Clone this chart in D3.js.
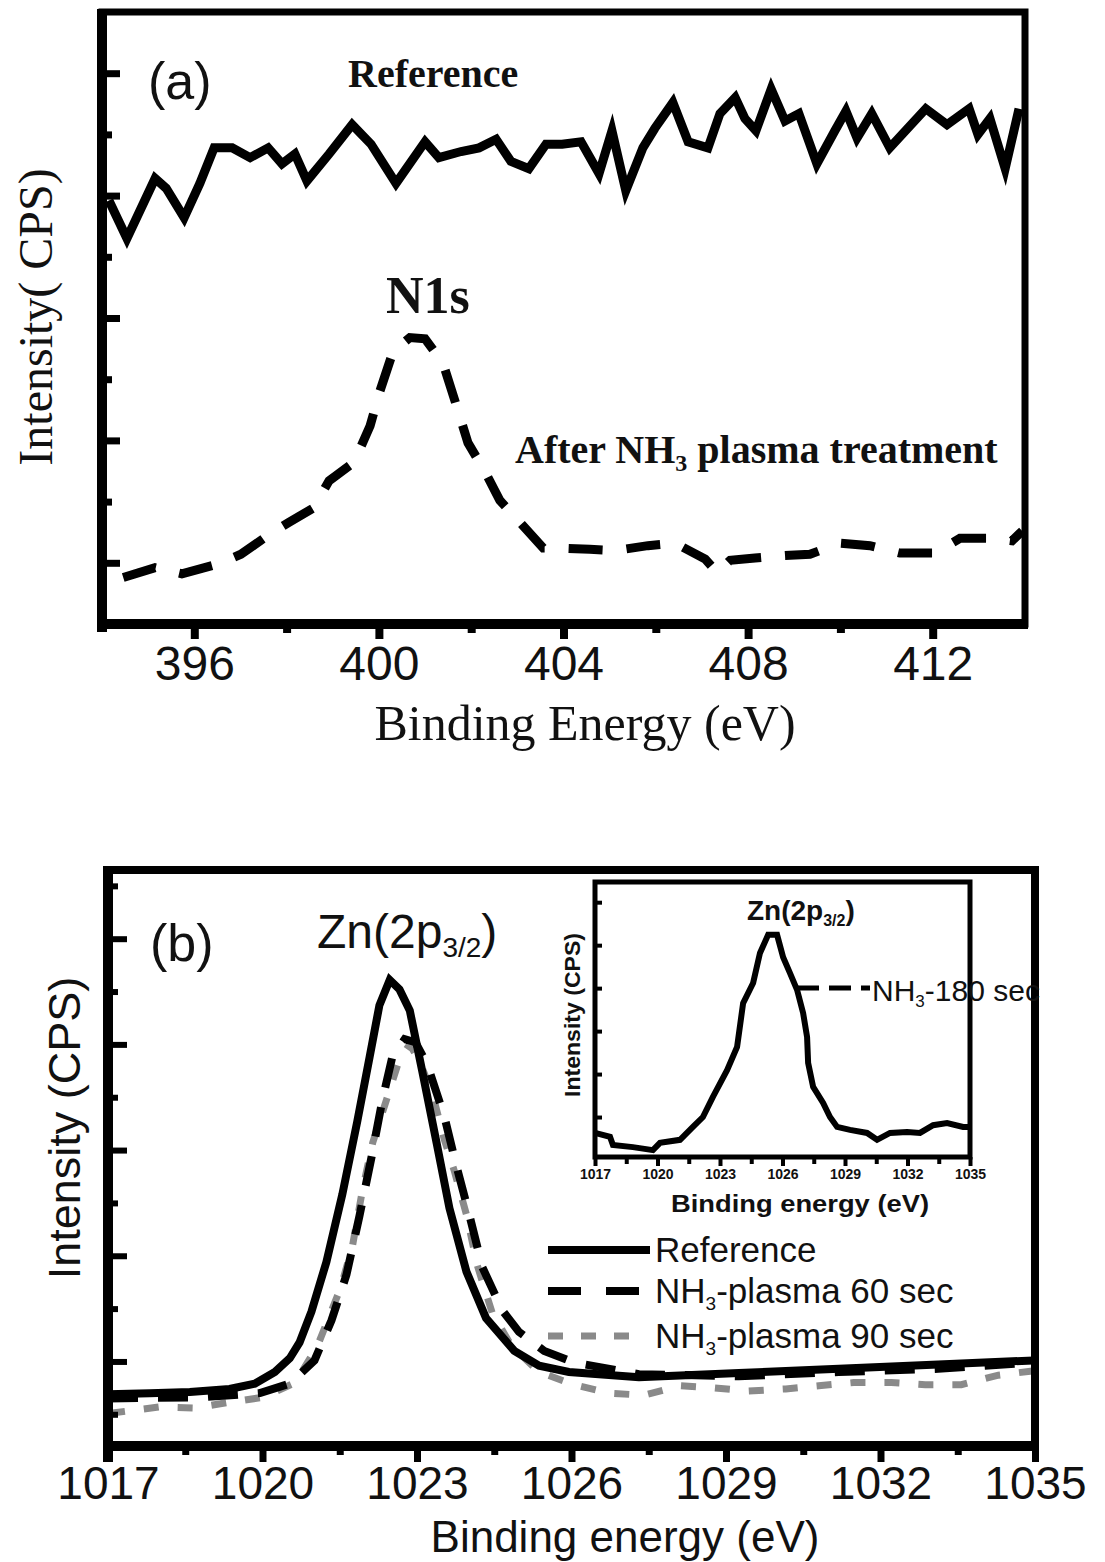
<!DOCTYPE html>
<meta charset="utf-8">
<style>
body{margin:0;background:#fff}
svg text{fill:#111}
</style>
<body>
<script src="https://cdn.jsdelivr.net/npm/d3@7"></script>
<script>
// ---- panel (a): N1s ----
var aRefE = [394.15,394.54,395.15,395.39,395.78,396.12,396.43,396.82,397.21,397.60,397.90,398.18,398.44,398.92,399.42,399.83,400.37,401.00,401.30,401.78,402.17,402.54,402.86,403.25,403.62,403.97,404.38,404.77,405.05,405.35,405.72,405.98,406.37,406.70,407.13,407.39,407.72,407.93,408.17,408.50,408.80,409.10,409.49,409.88,410.12,410.36,410.68,411.07,411.85,412.31,412.79,412.98,413.24,413.57,413.87];
var aRefI = [3.96,3.65,4.14,4.06,3.82,4.10,4.39,4.39,4.31,4.39,4.26,4.34,4.12,4.34,4.58,4.42,4.10,4.44,4.31,4.36,4.39,4.46,4.28,4.22,4.42,4.42,4.44,4.18,4.53,4.04,4.39,4.55,4.76,4.44,4.39,4.67,4.80,4.63,4.53,4.87,4.61,4.67,4.26,4.53,4.69,4.47,4.67,4.39,4.71,4.58,4.71,4.50,4.63,4.22,4.71];
var aNhE = [394.46,395.15,395.73,396.51,397.01,397.66,398.05,398.59,398.92,399.46,399.81,400.02,400.31,400.67,401.00,401.39,401.65,401.93,402.32,402.62,403.06,403.56,403.92,404.57,405.12,405.83,406.42,407.07,407.33,407.61,408.15,408.80,409.34,409.99,410.64,411.29,412.05,412.59,413.33,413.72,413.94];
var aNhI = [0.88,0.96,0.91,0.99,1.07,1.24,1.33,1.45,1.67,1.82,2.12,2.40,2.73,2.84,2.83,2.63,2.32,1.98,1.73,1.51,1.33,1.12,1.12,1.11,1.10,1.14,1.16,1.03,0.92,1.02,1.04,1.06,1.07,1.16,1.14,1.08,1.08,1.20,1.20,1.18,1.26];
var aTicks = [396,400,404,408,412];
var aMinor = [398,402,406,410];
var aYTicks = [1,2,3,4,5];
var aYMinor = [1.5,2.5,3.5,4.5];

// ---- panel (b): Zn 2p3/2 ----
var bRefE = [1017.00,1017.81,1018.59,1019.36,1019.85,1020.24,1020.53,1020.72,1020.95,1021.24,1021.55,1021.84,1022.08,1022.27,1022.47,1022.66,1022.86,1023.10,1023.38,1023.63,1023.96,1024.34,1024.89,1025.37,1025.95,1027.31,1029.25,1031.19,1033.12,1034.97];
var bRefI = [0.69,0.70,0.71,0.74,0.79,0.90,1.03,1.18,1.47,1.94,2.58,3.27,3.88,4.37,4.61,4.52,4.32,3.75,3.07,2.45,1.85,1.41,1.10,0.96,0.90,0.85,0.89,0.93,0.97,1.01];
var b60E = [1017.00,1018.78,1019.95,1020.53,1021.01,1021.34,1021.63,1021.88,1022.12,1022.33,1022.52,1022.76,1022.97,1023.20,1023.53,1023.76,1024.02,1024.27,1024.66,1024.98,1025.47,1026.05,1027.31,1029.25,1031.19,1033.12,1034.97];
var b60I = [0.65,0.66,0.70,0.79,1.01,1.39,1.82,2.37,2.94,3.48,3.88,4.05,4.02,3.81,3.32,2.86,2.38,1.89,1.48,1.28,1.10,0.99,0.88,0.86,0.90,0.93,0.99];
var b90E = [1017.04,1018.01,1018.69,1019.31,1020.00,1020.64,1021.07,1021.52,1021.75,1021.94,1022.14,1022.43,1022.66,1022.86,1023.05,1023.30,1023.53,1023.72,1023.96,1024.17,1024.46,1024.83,1025.37,1026.05,1026.73,1027.41,1028.12,1028.76,1029.44,1030.16,1030.80,1031.48,1032.21,1032.87,1033.57,1034.29,1034.95];
var b90I = [0.51,0.57,0.56,0.61,0.66,0.80,1.15,1.70,2.10,2.62,3.07,3.51,3.86,4.00,3.84,3.53,3.10,2.81,2.39,1.91,1.46,1.15,0.90,0.78,0.70,0.68,0.77,0.75,0.72,0.74,0.77,0.80,0.80,0.78,0.78,0.87,0.91];
var bTicks = [1017,1020,1023,1026,1029,1032,1035];
var bMinor = [1018.5,1021.5,1024.5,1027.5,1030.5,1033.5];
var bYTicks = [1,2,3,4,5];
var bYMinor = [0.5,1.5,2.5,3.5,4.5,5.5];
var bLegend = ["Reference","-plasma 60 sec","-plasma 90 sec"];

// ---- inset: NH3 180 sec ----
var inE = [1017.00,1017.72,1017.86,1018.82,1019.78,1020.12,1021.08,1021.70,1022.18,1022.66,1023.34,1023.82,1024.11,1024.59,1024.92,1025.31,1025.74,1026.03,1026.36,1026.70,1026.99,1027.18,1027.23,1027.47,1027.95,1028.28,1028.62,1029.24,1030.06,1030.54,1031.16,1031.98,1032.60,1033.23,1033.90,1034.67,1035.00];
var inI = [0.63,0.54,0.35,0.30,0.23,0.40,0.47,0.77,1.00,1.47,2.09,2.63,3.65,4.12,4.82,5.24,5.24,4.72,4.35,3.96,3.42,2.86,2.26,1.70,1.33,1.00,0.77,0.70,0.63,0.47,0.63,0.65,0.63,0.81,0.86,0.77,0.77];
var inYTicks = [1,2,3,4,5,6];

var width = 1105, height = 1562;
var arial = "Arial, 'Liberation Sans', sans-serif",
    times = "'Times New Roman', 'Liberation Serif', serif";
var fmt = d3.format("d");

var svg = d3.select("body").append("svg")
    .attr("width", width)
    .attr("height", height);

function pts(xs, ys) { return xs.map(function(d, i) { return [d, ys[i]]; }); }

function styleAxis(g, w, font, size, weight) {
  g.select(".domain").remove();
  g.selectAll("line").attr("stroke", "#000").attr("stroke-width", w);
  g.selectAll("text").attr("font-family", font).attr("font-size", size)
    .attr("font-weight", weight || "normal").attr("fill", "#111");
}

function subText(sel, x, y, parts, size, subSize, dy) {
  var t = sel.append("text").attr("x", x).attr("y", y).attr("font-size", size);
  t.append("tspan").text(parts[0]);
  t.append("tspan").attr("dy", dy).attr("font-size", subSize).text(parts[1]);
  t.append("tspan").attr("dy", -dy).text(parts[2]);
  return t;
}

// ================= panel (a) =================
var xa = d3.scaleLinear().domain([394, 414]).range([102, 1025]);
var ya = d3.scaleLinear().domain([0.5, 5.5]).range([624, 12]);
var lineA = d3.line().x(function(d){return xa(d[0]);}).y(function(d){return ya(d[1]);});

var ga = svg.append("g");
ga.append("path").datum(pts(aRefE, aRefI)).attr("d", lineA)
  .attr("fill", "none").attr("stroke", "#000").attr("stroke-width", 9).attr("stroke-linejoin", "miter");
ga.append("path").datum(pts(aNhE, aNhI)).attr("d", lineA)
  .attr("fill", "none").attr("stroke", "#000").attr("stroke-width", 9).attr("stroke-dasharray", "34,24");

ga.append("rect").attr("x", 102).attr("y", 12).attr("width", 923).attr("height", 612)
  .attr("fill", "none").attr("stroke", "#000").attr("stroke-width", 7);
ga.append("line").attr("x1", 102).attr("x2", 102).attr("y1", 9).attr("y2", 632).attr("stroke", "#000").attr("stroke-width", 10);
ga.append("line").attr("x1", 97).attr("x2", 1028).attr("y1", 624).attr("y2", 624).attr("stroke", "#000").attr("stroke-width", 10);

ga.append("g").attr("transform", "translate(0,624)")
  .call(d3.axisBottom(xa).tickValues(aTicks).tickSize(15).tickPadding(7))
  .call(styleAxis, 8, arial, 48);
ga.append("g").attr("transform", "translate(0,624)")
  .call(d3.axisBottom(xa).tickValues(aMinor).tickSize(9).tickFormat(""))
  .call(styleAxis, 8, arial, 48);
ga.append("g").attr("transform", "translate(102,0)")
  .call(d3.axisRight(ya).tickValues(aYTicks).tickSize(18).tickFormat(""))
  .call(styleAxis, 7, arial, 48);
ga.append("g").attr("transform", "translate(102,0)")
  .call(d3.axisRight(ya).tickValues(aYMinor).tickSize(10).tickFormat(""))
  .call(styleAxis, 7, arial, 48);

ga.append("text").attr("x", 148).attr("y", 99).attr("font-family", arial).attr("font-size", 52)
  .attr("fill", "#222").text("(a)");
ga.append("text").attr("x", 348).attr("y", 87).attr("font-family", times).attr("font-size", 40)
  .attr("font-weight", "bold").text("Reference");
ga.append("text").attr("x", 386).attr("y", 313).attr("font-family", times).attr("font-size", 52)
  .attr("font-weight", "bold").text("N1s");
subText(ga, 515, 463, ["After NH", "3", " plasma treatment"], 40, 24, 8)
  .attr("font-family", times).attr("font-weight", "bold");
ga.append("text").attr("x", 585).attr("y", 740).attr("text-anchor", "middle")
  .attr("font-family", times).attr("font-size", 50).text("Binding Energy (eV)");
ga.append("text").attr("transform", "translate(52,317) rotate(-90)").attr("text-anchor", "middle")
  .attr("font-family", times).attr("font-size", 48).text("Intensity( CPS)");

// ================= panel (b) =================
var xb = d3.scaleLinear().domain([1017, 1035]).range([108, 1035]);
var yb = d3.scaleLinear().domain([0.2, 5.65]).range([1446, 870]);
var lineB = d3.line().x(function(d){return xb(d[0]);}).y(function(d){return yb(d[1]);});

var gb = svg.append("g");
gb.append("path").datum(pts(b90E, b90I)).attr("d", lineB)
  .attr("fill", "none").attr("stroke", "#8a8a8a").attr("stroke-width", 7).attr("stroke-dasharray", "15,19");
gb.append("path").datum(pts(b60E, b60I)).attr("d", lineB)
  .attr("fill", "none").attr("stroke", "#000").attr("stroke-width", 8).attr("stroke-dasharray", "30,20");
gb.append("path").datum(pts(bRefE, bRefI)).attr("d", lineB)
  .attr("fill", "none").attr("stroke", "#000").attr("stroke-width", 8);

gb.append("rect").attr("x", 108).attr("y", 870).attr("width", 927).attr("height", 576)
  .attr("fill", "none").attr("stroke", "#000").attr("stroke-width", 8);
gb.append("line").attr("x1", 108).attr("x2", 108).attr("y1", 866).attr("y2", 1462).attr("stroke", "#000").attr("stroke-width", 10);
gb.append("line").attr("x1", 103).attr("x2", 1039).attr("y1", 1446).attr("y2", 1446).attr("stroke", "#000").attr("stroke-width", 10);

gb.append("g").attr("transform", "translate(0,1446)")
  .call(d3.axisBottom(xb).tickValues(bTicks).tickSize(16).tickPadding(4).tickFormat(fmt))
  .call(styleAxis, 7, arial, 46);
gb.append("g").attr("transform", "translate(0,1446)")
  .call(d3.axisBottom(xb).tickValues(bMinor).tickSize(9).tickFormat(""))
  .call(styleAxis, 7, arial, 46);
gb.append("g").attr("transform", "translate(108,0)")
  .call(d3.axisRight(yb).tickValues(bYTicks).tickSize(19).tickFormat(""))
  .call(styleAxis, 6, arial, 46);
gb.append("g").attr("transform", "translate(108,0)")
  .call(d3.axisRight(yb).tickValues(bYMinor).tickSize(10).tickFormat(""))
  .call(styleAxis, 6, arial, 46);

gb.append("text").attr("x", 150).attr("y", 961).attr("font-family", arial).attr("font-size", 52)
  .attr("fill", "#222").text("(b)");
subText(gb, 317, 948, ["Zn(2p", "3/2", ")"], 48, 28, 9).attr("font-family", arial);
gb.append("text").attr("x", 625).attr("y", 1552).attr("text-anchor", "middle")
  .attr("font-family", arial).attr("font-size", 44).text("Binding energy (eV)");
gb.append("text").attr("transform", "translate(80,1128) rotate(-90)").attr("text-anchor", "middle")
  .attr("font-family", arial).attr("font-size", 45).text("Intensity (CPS)");

// legend
var legY = [1250, 1291, 1336];
var legStyle = [
  {stroke: "#000", w: 8, dash: null},
  {stroke: "#000", w: 8, dash: "33,25"},
  {stroke: "#8a8a8a", w: 7, dash: "15,18"}
];
bLegend.forEach(function(name, i) {
  var s = legStyle[i];
  var l = gb.append("line").attr("x1", 548).attr("x2", i === 2 ? 636 : 650)
    .attr("y1", legY[i]).attr("y2", legY[i])
    .attr("stroke", s.stroke).attr("stroke-width", s.w);
  if (s.dash) l.attr("stroke-dasharray", s.dash);
  if (i === 0) {
    gb.append("text").attr("x", 655).attr("y", legY[i] + 12).attr("font-family", arial)
      .attr("font-size", 35).text(name);
  } else {
    subText(gb, 655, legY[i] + 12, ["NH", "3", name], 35, 19, 7).attr("font-family", arial);
  }
});

// ================= inset =================
var xi = d3.scaleLinear().domain([1017, 1035]).range([595, 970]);
var yi = d3.scaleLinear().domain([0.07, 6.47]).range([1157, 882]);
var lineI = d3.line().x(function(d){return xi(d[0]);}).y(function(d){return yi(d[1]);});

var gi = svg.append("g");
gi.append("rect").attr("x", 595).attr("y", 882).attr("width", 375).attr("height", 275)
  .attr("fill", "#fff").attr("stroke", "#000").attr("stroke-width", 5);
gi.append("path").datum(pts(inE, inI)).attr("d", lineI)
  .attr("fill", "none").attr("stroke", "#000").attr("stroke-width", 6);

gi.append("g").attr("transform", "translate(0,1157)")
  .call(d3.axisBottom(xi).tickValues(bTicks).tickSize(9).tickPadding(3).tickFormat(fmt))
  .call(styleAxis, 4, arial, 14, "bold");
gi.append("g").attr("transform", "translate(0,1157)")
  .call(d3.axisBottom(xi).tickValues(bMinor).tickSize(7).tickFormat(""))
  .call(styleAxis, 4, arial, 14);
gi.append("g").attr("transform", "translate(595,0)")
  .call(d3.axisRight(yi).tickValues(inYTicks).tickSize(7).tickFormat(""))
  .call(styleAxis, 4, arial, 14);

subText(gi, 747, 920, ["Zn(2p", "3/2", ")"], 28, 16, 6)
  .attr("font-family", arial).attr("font-weight", "bold");
gi.append("text").attr("x", 800).attr("y", 1212).attr("text-anchor", "middle")
  .attr("font-family", arial).attr("font-size", 24).attr("font-weight", "bold")
  .attr("textLength", 258).attr("lengthAdjust", "spacingAndGlyphs").text("Binding energy (eV)");
gi.append("text").attr("transform", "translate(580,1015) rotate(-90)").attr("text-anchor", "middle")
  .attr("font-family", arial).attr("font-size", 22).attr("font-weight", "bold")
  .attr("textLength", 164).attr("lengthAdjust", "spacingAndGlyphs").text("Intensity (CPS)");
gi.append("line").attr("x1", 797).attr("x2", 870).attr("y1", 988).attr("y2", 988)
  .attr("stroke", "#000").attr("stroke-width", 5).attr("stroke-dasharray", "22,10");
subText(gi, 872, 1001, ["NH", "3", "-180 sec"], 30, 17, 6).attr("font-family", arial);
</script>
